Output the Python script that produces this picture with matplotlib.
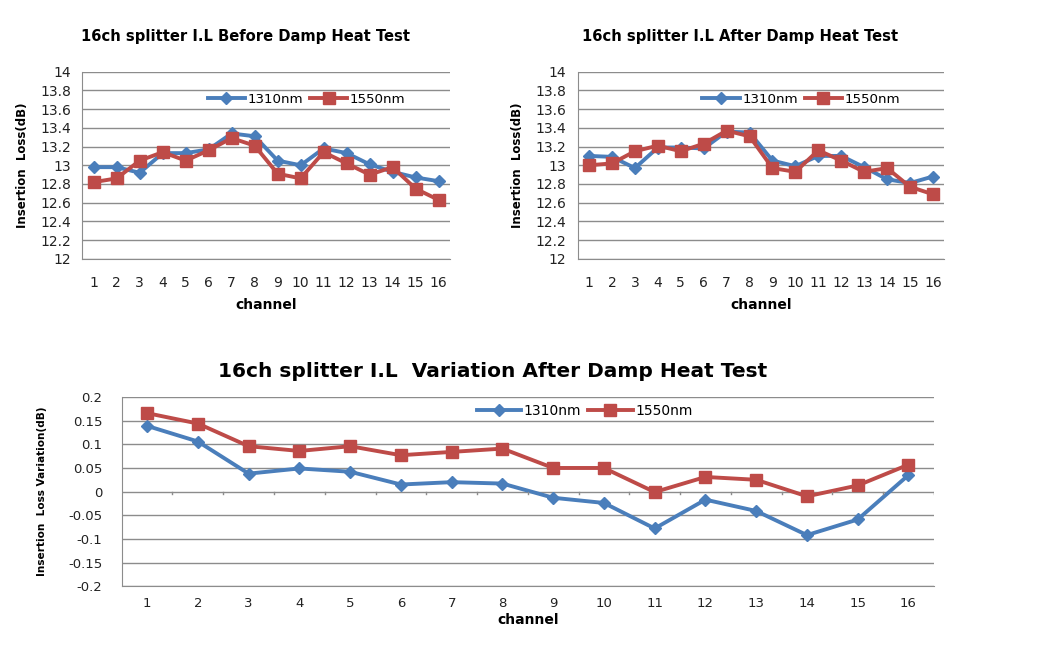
import numpy as np
import matplotlib
matplotlib.use('Agg')
import matplotlib.pyplot as plt
from matplotlib import font_manager

channels = list(range(1, 17))

# before damp heat test (dB)
before_1310 = [12.98, 12.98, 12.92, 13.13, 13.13, 13.17, 13.34, 13.31,
               13.05, 13.00, 13.18, 13.13, 13.01, 12.93, 12.87, 12.83]
before_1550 = [12.82, 12.86, 13.05, 13.14, 13.05, 13.16, 13.29, 13.21,
               12.91, 12.86, 13.14, 13.02, 12.90, 12.98, 12.75, 12.63]

# after damp heat test (dB)
after_1310 = [13.10, 13.09, 12.97, 13.19, 13.19, 13.18, 13.36, 13.35,
              13.05, 12.99, 13.10, 13.10, 12.98, 12.85, 12.81, 12.88]
after_1550 = [13.00, 13.02, 13.15, 13.21, 13.15, 13.23, 13.37, 13.31,
              12.97, 12.93, 13.16, 13.05, 12.93, 12.97, 12.77, 12.69]

# variation (dB)
var_1310 = [0.139, 0.106, 0.038, 0.049, 0.042, 0.015, 0.020, 0.017,
            -0.013, -0.024, -0.078, -0.017, -0.041, -0.092, -0.059, 0.035]
var_1550 = [0.166, 0.144, 0.096, 0.086, 0.096, 0.077, 0.084, 0.091,
            0.050, 0.050, -0.001, 0.031, 0.025, -0.010, 0.013, 0.057]

blue = '#4A7EBB'
red = '#BE4B48'
grid_c = '#8C8C8C'

# condensed font for the y labels if we have one
names = set(f.name for f in font_manager.fontManager.ttflist)
if 'Liberation Sans Narrow' in names:
    ylab_font = 'Liberation Sans Narrow'
    ylab_top, ylab_bot = 10.5, 10
else:
    ylab_font = 'DejaVu Sans'
    ylab_top, ylab_bot = 8.5, 7.6

fig = plt.figure(figsize=(10.54, 6.52), dpi=100)


def style_top(ax, y1310, y1550):
    ax.plot(channels, y1310, color=blue, lw=2.8, marker='D', ms=6, label='1310nm')
    ax.plot(channels, y1550, color=red, lw=2.8, marker='s', ms=8.5, label='1550nm')
    ax.set_xlim(0.5, 16.5)
    ax.set_ylim(12, 14)
    ax.set_yticks(np.arange(12, 14.01, 0.2))
    ax.set_yticklabels(['12', '12.2', '12.4', '12.6', '12.8', '13', '13.2', '13.4',
                        '13.6', '13.8', '14'], fontsize=10, color='#222222')
    ax.set_xticks(channels)
    ax.set_xticklabels([str(c) for c in channels], fontsize=10, color='#222222')
    ax.tick_params(length=0, pad=12)
    ax.tick_params(axis='y', pad=8)
    ax.grid(axis='y', color=grid_c, lw=1)
    ax.set_axisbelow(True)
    for s in ['top', 'right']:
        ax.spines[s].set_visible(False)
    ax.spines['left'].set_color(grid_c)
    ax.spines['bottom'].set_color(grid_c)
    ax.set_xlabel('channel', fontsize=10, fontweight='bold', labelpad=6)
    ax.set_ylabel('Insertion  Loss(dB)', fontsize=ylab_top, fontweight='bold',
                  labelpad=8, family=ylab_font)
    ax.legend(loc='upper center', bbox_to_anchor=(0.61, 0.95), ncol=2, frameon=False,
              fontsize=9.6, handlelength=2.8, columnspacing=0.5, handletextpad=0.2)


ax1 = fig.add_axes([0.078, 0.603, 0.349, 0.287])
style_top(ax1, before_1310, before_1550)
fig.text(0.2325, 1 - 36 / 652, '16ch splitter I.L Before Damp Heat Test', fontsize=10.6,
         fontweight='bold', ha='center', va='center')

ax2 = fig.add_axes([0.548, 0.603, 0.348, 0.287])
style_top(ax2, after_1310, after_1550)
fig.text(0.702, 1 - 36 / 652, '16ch splitter I.L After Damp Heat Test', fontsize=10.6,
         fontweight='bold', ha='center', va='center')

ax3 = fig.add_axes([0.1155, 0.101, 0.7705, 0.290])
ax3.plot(channels, var_1310, color=blue, lw=2.8, marker='D', ms=6, label='1310nm')
ax3.plot(channels, var_1550, color=red, lw=2.8, marker='s', ms=8.5, label='1550nm')
ax3.set_xlim(0.5, 16.5)
ax3.set_ylim(-0.2, 0.2)
yt = np.round(np.arange(-0.2, 0.201, 0.05), 2)
ax3.set_yticks(yt)
ax3.set_yticklabels(['0' if v == 0 else '%g' % v for v in yt], fontsize=9.5,
                    color='#222222')
ax3.set_xticks(channels)
ax3.set_xticklabels([str(c) for c in channels], fontsize=9.5, color='#222222')
ax3.tick_params(length=0, pad=8)
ax3.tick_params(axis='y', pad=14)
ax3.grid(axis='y', color=grid_c, lw=1)
ax3.set_axisbelow(True)
for s in ['top', 'right']:
    ax3.spines[s].set_visible(False)
ax3.spines['left'].set_color(grid_c)
ax3.spines['bottom'].set_color(grid_c)
# small category ticks on the zero line
for b in np.arange(1.5, 16.6, 1.0):
    ax3.plot([b, b], [0, -0.006], color=grid_c, lw=1)
ax3.set_xlabel('channel', fontsize=10, fontweight='bold', labelpad=2)
ax3.set_ylabel('Insertion  Loss Variation(dB)', fontsize=ylab_bot, fontweight='bold',
               family=ylab_font, labelpad=15)
fig.text(0.4678, 1 - 371 / 652, '16ch splitter I.L  Variation After Damp Heat Test',
         fontsize=14.5, fontweight='bold', ha='center', va='center')
ax3.legend(loc='upper center', bbox_to_anchor=(0.57, 1.03), ncol=2, frameon=False,
           fontsize=10, handlelength=3.2, columnspacing=0.5, handletextpad=0.2)

fig.savefig('out.png', dpi=100)
